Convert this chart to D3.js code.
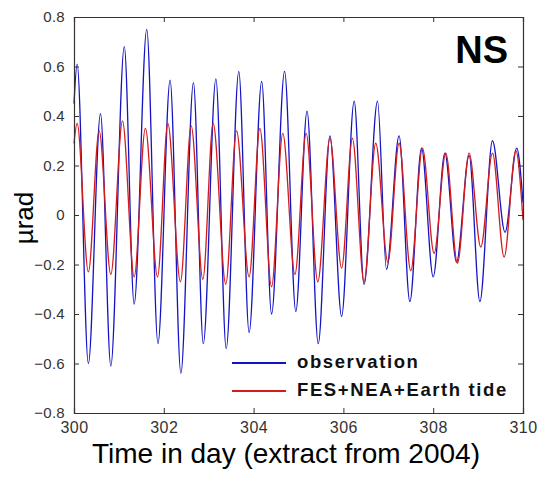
<!DOCTYPE html>
<html>
<head>
<meta charset="utf-8">
<script src="https://cdn.jsdelivr.net/npm/d3@7"></script>
<style>
  body { margin: 0; background: #fff; }
  svg { display: block; font-family: "Liberation Sans", Arial, sans-serif; }
</style>
</head>
<body>
<div id="chart"></div>
<script>
"use strict";

// observation: times (day of 2004) of the turning points and their values
var obsTime = [300.00, 300.07, 300.32, 300.59, 300.82, 301.12, 301.34, 301.62, 301.87, 302.14,
    302.38, 302.66, 302.88, 303.16, 303.39, 303.67, 303.90, 304.18, 304.40, 304.69,
    304.94, 305.19, 305.44, 305.70, 305.96, 306.24, 306.46, 306.76, 306.96, 307.24,
    307.48, 307.74, 308.00, 308.26, 308.52, 308.80, 309.04, 309.32, 309.60, 309.86, 310.00];
var obsValue = [0.45, 0.61, -0.60, 0.41, -0.61, 0.68, -0.36, 0.75, -0.52, 0.545,
    -0.64, 0.535, -0.52, 0.55, -0.54, 0.58, -0.475, 0.54, -0.40, 0.58,
    -0.39, 0.42, -0.52, 0.32, -0.41, 0.46, -0.28, 0.46, -0.22, 0.32,
    -0.35, 0.27, -0.25, 0.25, -0.19, 0.24, -0.35, 0.30, -0.07, 0.27, 0.05];

// model (FES+NEA+Earth tide)
var modTime = [300.00, 300.07, 300.32, 300.56, 300.82, 301.08, 301.34, 301.59, 301.86, 302.09,
    302.37, 302.61, 302.87, 303.10, 303.38, 303.62, 303.90, 304.14, 304.40, 304.65,
    304.92, 305.17, 305.43, 305.70, 305.96, 306.20, 306.46, 306.72, 306.99, 307.24,
    307.50, 307.76, 308.02, 308.28, 308.54, 308.80, 309.06, 309.32, 309.58, 309.84, 310.00];
var modValue = [0.29, 0.37, -0.23, 0.34, -0.24, 0.38, -0.25, 0.35, -0.25, 0.37,
    -0.27, 0.36, -0.26, 0.37, -0.28, 0.34, -0.25, 0.35, -0.29, 0.33,
    -0.24, 0.33, -0.27, 0.31, -0.215, 0.31, -0.27, 0.29, -0.19, 0.29,
    -0.225, 0.27, -0.155, 0.25, -0.195, 0.25, -0.13, 0.25, -0.17, 0.26, -0.02];

var xTicks = [300, 302, 304, 306, 308, 310];
var yTicks = [-0.8, -0.6, -0.4, -0.2, 0, 0.2, 0.4, 0.6, 0.8];
var seriesNames = ["observation", "FES+NEA+Earth tide"];
var seriesColors = ["#1414c4", "#d41c1c"];

// size and margins
var width = 540, height = 477;
var margin = { top: 17, right: 17, bottom: 64, left: 74 };
var plotW = width - margin.left - margin.right,
    plotH = height - margin.top - margin.bottom;

var svg = d3.select("#chart")
    .append("svg")
    .attr("width", width)
    .attr("height", height);

var g = svg.append("g")
    .attr("transform", "translate(" + margin.left + "," + margin.top + ")");

// scales
var x = d3.scaleLinear().domain([300, 310]).range([0, plotW]);
var y = d3.scaleLinear().domain([-0.8, 0.8]).range([plotH, 0]);

// the two series
var series = [
    d3.zip(obsTime, obsValue),
    d3.zip(modTime, modValue)
];

var line = d3.line()
    .x(function (d) { return x(d[0]); })
    .y(function (d) { return y(d[1]); })
    .curve(d3.curveMonotoneX);

g.selectAll(".series")
    .data(series)
    .enter()
    .append("path")
    .attr("class", "series")
    .attr("d", line)
    .attr("fill", "none")
    .attr("stroke", function (d, i) { return seriesColors[i]; })
    .attr("stroke-width", 1.3);

// axes, ticks point inward on all four sides (matlab box)
var tickColor = "#333";
var fmt = function (d) { return d === 0 ? "0" : d3.format(".1f")(d); };

var bottomAxis = g.append("g")
    .attr("transform", "translate(0," + plotH + ")")
    .call(d3.axisBottom(x).tickValues(xTicks).tickSize(-5).tickPadding(9).tickFormat(d3.format("d")));
var topAxis = g.append("g")
    .call(d3.axisTop(x).tickValues(xTicks).tickSize(-5).tickFormat(""));
var leftAxis = g.append("g")
    .call(d3.axisLeft(y).tickValues(yTicks).tickSize(-5).tickPadding(9).tickFormat(fmt));
var rightAxis = g.append("g")
    .attr("transform", "translate(" + plotW + ",0)")
    .call(d3.axisRight(y).tickValues(yTicks).tickSize(-5).tickFormat(""));

[bottomAxis, topAxis, leftAxis, rightAxis].forEach(function (a) {
    a.select(".domain").attr("stroke", tickColor).attr("stroke-width", 1.2);
    a.selectAll(".tick line").attr("stroke", tickColor);
    a.selectAll("text")
        .attr("fill", "#333")
        .attr("font-family", "'Liberation Sans', Arial, sans-serif");
});
bottomAxis.selectAll("text").attr("font-size", 16).attr("letter-spacing", 0.5);
leftAxis.selectAll("text").attr("font-size", 15).attr("letter-spacing", 0.3);

// NS title
g.append("text")
    .attr("x", 434)
    .attr("y", 46)
    .attr("text-anchor", "end")
    .attr("font-size", 38)
    .attr("font-weight", "bold")
    .attr("fill", "#000")
    .text("NS");

// legend
var legend = g.append("g")
    .attr("transform", "translate(158,346)");

legend.selectAll("line")
    .data(seriesNames)
    .enter()
    .append("line")
    .attr("x1", 0)
    .attr("x2", 54)
    .attr("y1", function (d, i) { return i * 28; })
    .attr("y2", function (d, i) { return i * 28; })
    .attr("stroke", function (d, i) { return seriesColors[i]; })
    .attr("stroke-width", 2.2);

legend.selectAll("text")
    .data(seriesNames)
    .enter()
    .append("text")
    .attr("x", 65)
    .attr("y", function (d, i) { return i * 28 + 5; })
    .attr("font-size", 18.5)
    .attr("font-weight", "bold")
    .attr("letter-spacing", 1.6)
    .attr("fill", "#111")
    .text(function (d) { return d; });

// axis titles
svg.append("text")
    .attr("x", 92)
    .attr("y", 463)
    .attr("font-size", 28)
    .attr("fill", "#000")
    .text("Time in day (extract from 2004)");

svg.append("text")
    .attr("transform", "translate(33,218) rotate(-90)")
    .attr("text-anchor", "middle")
    .attr("font-size", 26)
    .attr("fill", "#000")
    .text("µrad");
</script>
</body>
</html>
